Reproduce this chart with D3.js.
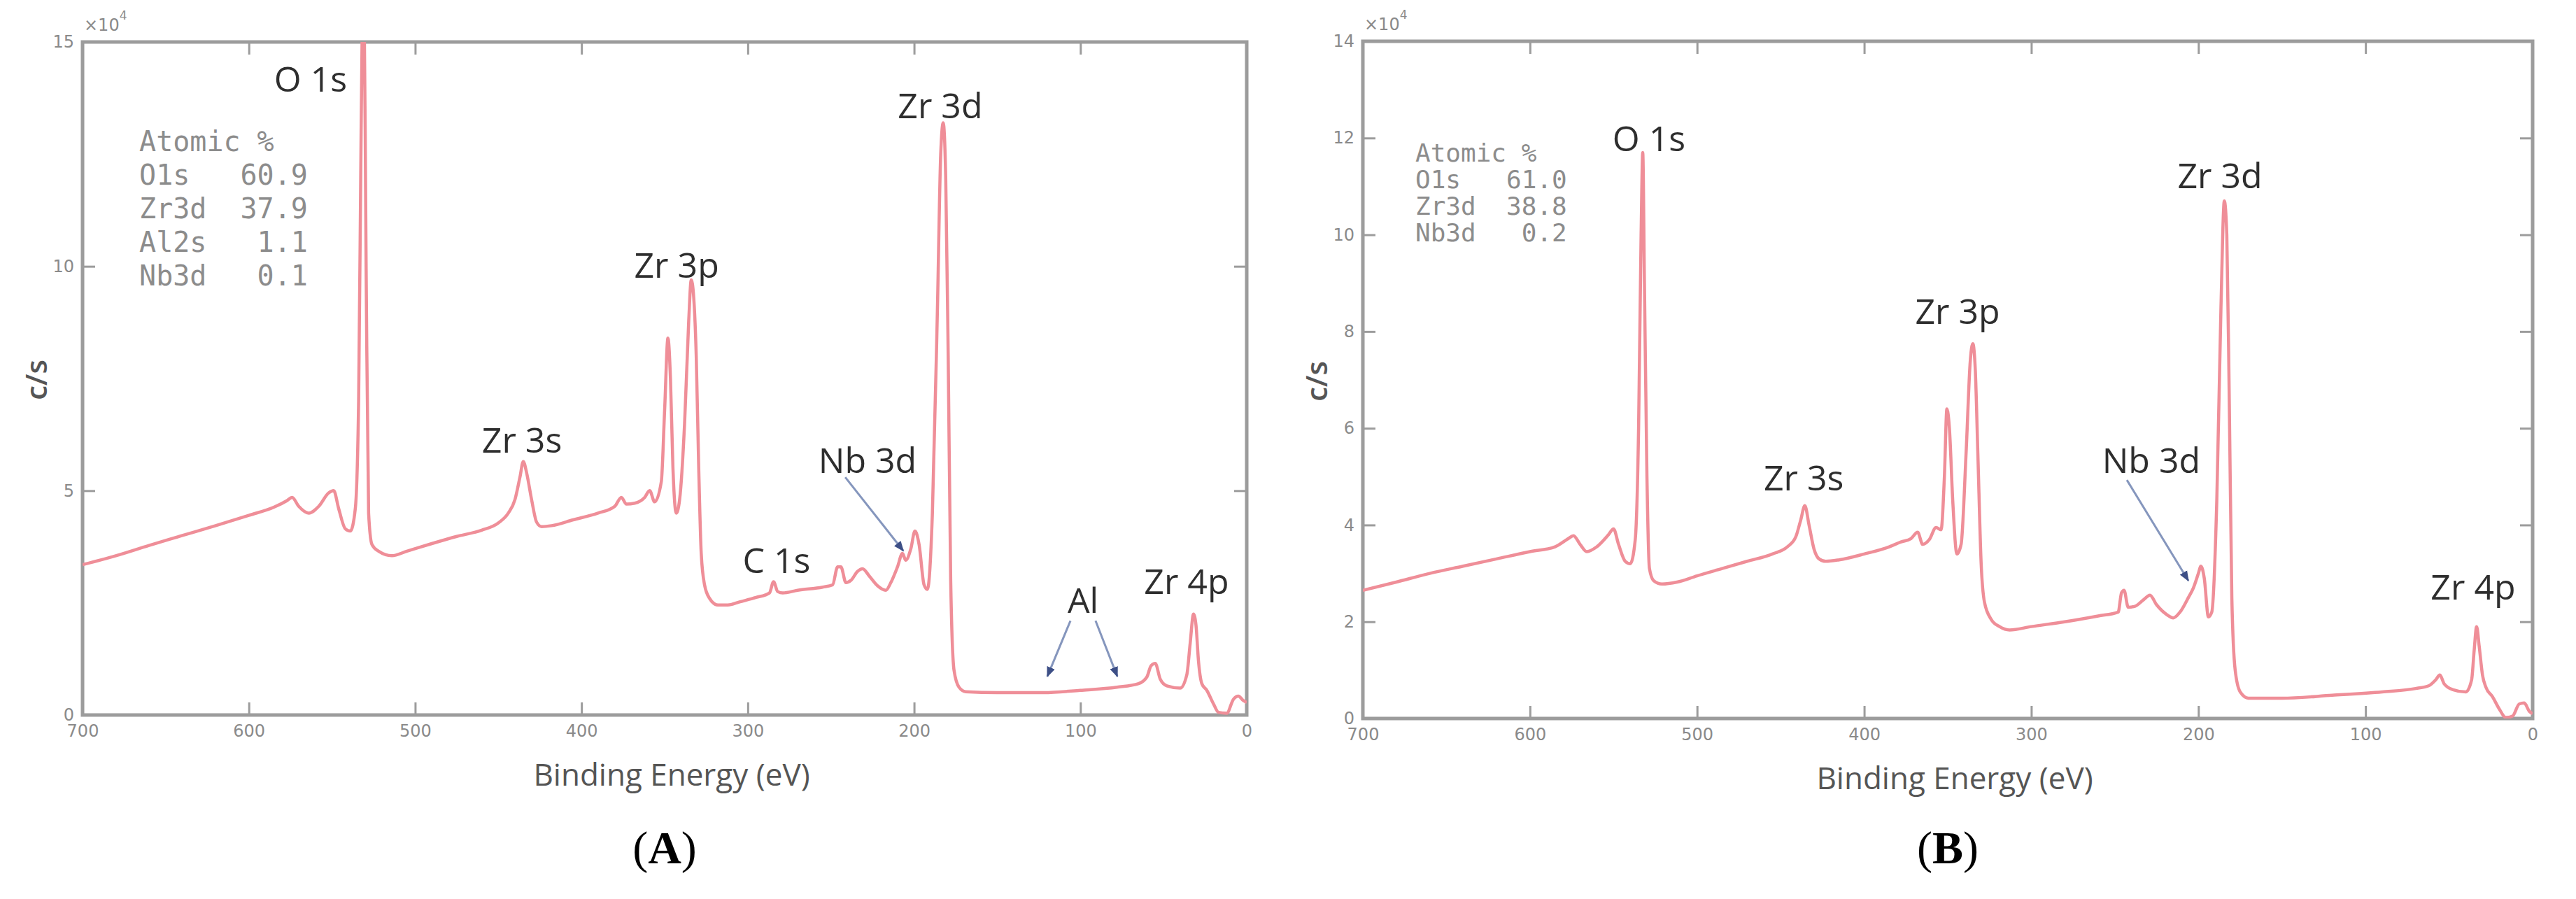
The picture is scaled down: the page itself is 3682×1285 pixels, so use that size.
<!DOCTYPE html>
<html><head><meta charset="utf-8">
<script src="https://cdn.jsdelivr.net/npm/d3@7"></script>
<style>body{margin:0;background:#fff;} svg{display:block}</style>
</head><body>
<svg id="chart" width="3682" height="1285"></svg>
<script>
// ---------- data ----------
const xTickValues = [700, 600, 500, 400, 300, 200, 100, 0];
const yTicksA = [0, 5, 10, 15];
const yTicksB = [0, 2, 4, 6, 8, 10, 12, 14];

// [binding energy (eV), counts (x10^4 c/s)]
const spectrumA = [
  [700,3.35],[680,3.55],[660,3.78],[640,4.0],[620,4.22],[600,4.45],[585,4.63],[577,4.78],[574,4.85],
  [570,4.65],[564,4.5],[558,4.65],[552,4.95],[549,5.0],[546,4.6],[542,4.15],[539,4.1],[536,4.6],
  [534,7],[532.5,13],[531,17],[529.5,10],[528,4.5],[526,3.8],[522,3.65],[514,3.55],[505,3.65],
  [490,3.82],[475,3.98],[460,4.12],[450,4.28],[444,4.5],[440,4.8],[437,5.3],[435,5.65],[433,5.4],
  [430,4.8],[427,4.3],[424,4.2],[418,4.22],[405,4.35],[390,4.5],[380,4.65],[376,4.85],[373,4.7],
  [368,4.72],[362,4.85],[359,5.0],[356,4.75],[352,5.2],[350,6.8],[348,8.4],[346.5,7.5],[345,5.5],
  [343,4.5],[341,4.8],[338,6.5],[335.5,8.8],[334,9.7],[332.5,9.3],[331,8.0],[329.5,5.5],[328,3.6],
  [326,2.9],[323,2.6],[318,2.45],[312,2.45],[305,2.52],[295,2.62],[287,2.72],[284.5,2.97],[282,2.75],
  [279,2.72],[270,2.78],[255,2.85],[249,2.9],[246,3.3],[244,3.3],[241,2.95],[238,3.0],[234,3.2],
  [231,3.26],[227,3.1],[222,2.88],[217,2.78],[214,2.95],[210,3.3],[207,3.6],[205,3.45],[202,3.7],
  [199.5,4.1],[197,3.8],[194,2.9],[192,2.8],[189,4.5],[186,9],[184,12.5],[182.5,13.2],[181,12],
  [179.5,8],[178,3],[176,1.0],[173,0.62],[169,0.52],[150,0.5],[122,0.5],[100,0.55],[78,0.62],
  [65,0.7],[60,0.85],[57.5,1.1],[55,1.15],[52,0.8],[48,0.65],[40,0.6],[36,0.9],[34,1.6],[32,2.25],
  [30.5,2.0],[29,1.2],[27,0.7],[24,0.55],[20,0.25],[17,0.06],[12,0.04],[8,0.35],[5,0.42],[2,0.32],[0,0.28]
];
const spectrumB = [
  [700,2.65],[680,2.82],[660,3.0],[640,3.15],[620,3.3],[600,3.45],[585,3.55],[577,3.72],[574,3.78],
  [570,3.6],[566,3.45],[560,3.55],[553,3.8],[550,3.92],[547,3.6],[543,3.25],[540,3.2],[537,3.7],
  [535,6],[533.5,10],[532.5,11.7],[531.5,9],[530,5],[528.5,3.1],[526,2.85],[521,2.78],[512,2.82],
  [500,2.95],[485,3.1],[470,3.25],[455,3.4],[446,3.55],[441,3.75],[438,4.1],[435.5,4.4],[433,4.0],
  [430,3.5],[427,3.3],[423,3.25],[415,3.28],[400,3.4],[385,3.55],[378,3.65],[372,3.72],[368,3.85],
  [365,3.6],[361,3.7],[357,3.95],[354,3.9],[352,5.0],[350.5,6.4],[349,6.0],[347,4.5],[344.5,3.4],
  [342,3.6],[339,5.5],[336.5,7.4],[335,7.75],[333.5,7.2],[332,5.5],[330,3.2],[328,2.4],[324,2.05],
  [319,1.9],[313,1.83],[300,1.9],[280,2.0],[260,2.12],[248,2.2],[246,2.6],[244.5,2.65],[242,2.3],
  [238,2.32],[233,2.45],[229,2.55],[225,2.35],[219,2.15],[215,2.08],[211,2.2],[206,2.5],[203,2.7],
  [200,3.0],[198.5,3.15],[196.5,2.9],[194,2.1],[192,2.2],[189,4.5],[186.5,8.5],[184.5,10.7],[183,10],
  [181.5,6.5],[180,2.5],[178,1.0],[175,0.55],[170,0.42],[150,0.42],[120,0.48],[90,0.55],[70,0.62],
  [62,0.68],[58,0.8],[55.5,0.9],[53,0.72],[48,0.6],[40,0.55],[36.5,0.8],[35,1.4],[33.5,1.9],[32,1.5],
  [30,0.9],[28,0.65],[24,0.45],[20,0.2],[16,0.02],[12,0.05],[8,0.3],[5,0.32],[2,0.15],[0,0.1]
];

const peakLabelsA = [
  {t:"O 1s", e:562.9, i:14.19}, {t:"Zr 3d", e:184.3, i:13.6}, {t:"Zr 3p", e:342.8, i:10.04},
  {t:"Zr 3s", e:435.8, i:6.14}, {t:"Nb 3d", e:228, i:5.69}, {t:"C 1s", e:282.7, i:3.46},
  {t:"Al", e:98.4, i:2.57}, {t:"Zr 4p", e:36.2, i:2.99}
];
const peakLabelsB = [
  {t:"O 1s", e:528.8, i:12.0}, {t:"Zr 3d", e:187.1, i:11.24}, {t:"Zr 3p", e:344.1, i:8.43},
  {t:"Zr 3s", e:436.2, i:4.99}, {t:"Nb 3d", e:228.2, i:5.35}, {t:"Zr 4p", e:35.6, i:2.73}
];
const arrowsA = [
  {from:[241.4,5.30], to:[206.5,3.66]},
  {from:[106,2.1], to:[119.9,0.86]},
  {from:[90.9,2.1], to:[77.8,0.86]}
];
const arrowsB = [
  {from:[242.8,4.93], to:[206,2.85]}
];
const atomicA = ["Atomic %", "O1s   60.9", "Zr3d  37.9", "Al2s   1.1", "Nb3d   0.1"];
const atomicB = ["Atomic %", "O1s   61.0", "Zr3d  38.8", "Nb3d   0.2"];
const captions = ["A", "B"];

// ---------- drawing ----------
const svg = d3.select("#chart");
svg.append("rect").attr("width",3682).attr("height",1285).attr("fill","#fff");

const defs = svg.append("defs");
defs.append("marker").attr("id","arrowhead").attr("viewBox","0 0 10 10")
  .attr("refX",9).attr("refY",5).attr("markerWidth",5).attr("markerHeight",5)
  .attr("orient","auto-start-reverse").attr("markerUnits","strokeWidth")
  .append("path").attr("d","M0,1 L10,5 L0,9 z").attr("fill","#3d4f86");

const panels = [
  {left:118, right:1782, top:60, bottom:1022, yMax:15, yTicks:yTicksA, data:spectrumA,
   labels:peakLabelsA, arrows:arrowsA, atomic:atomicA, atomE:665.9, atomI:12.79, atomStep:48, atomSize:40,
   capX:950, caption:captions[0]},
  {left:1948, right:3620, top:59, bottom:1027, yMax:14, yTicks:yTicksB, data:spectrumB,
   labels:peakLabelsB, arrows:arrowsB, atomic:atomicB, atomE:668.6, atomI:11.7, atomStep:38, atomSize:36,
   capX:2784, caption:captions[1]}
];

const frameColor = "#9c9c9c";

panels.forEach((p, idx) => {
  const x = d3.scaleLinear().domain([700, 0]).range([p.left, p.right]);
  const y = d3.scaleLinear().domain([0, p.yMax]).range([p.bottom, p.top]);
  const g = svg.append("g");

  const clipId = "clip" + idx;
  defs.append("clipPath").attr("id", clipId).append("rect")
    .attr("x", p.left).attr("y", p.top).attr("width", p.right - p.left).attr("height", p.bottom - p.top);

  const styleAxis = sel => {
    sel.select(".domain").remove();
    sel.selectAll(".tick line").attr("stroke", frameColor).attr("stroke-width", 3);
    sel.selectAll(".tick text").attr("fill", "#8a8a8a").attr("font-size", 24)
      .attr("font-family", "'DejaVu Sans', sans-serif");
  };
  g.append("g").attr("transform", `translate(0,${p.bottom})`)
    .call(d3.axisBottom(x).tickValues(xTickValues).tickSize(-18).tickPadding(14).tickFormat(d3.format("d")))
    .call(styleAxis);
  g.append("g").attr("transform", `translate(0,${p.top})`)
    .call(d3.axisTop(x).tickValues(xTickValues).tickSize(-18).tickFormat(""))
    .call(styleAxis);
  g.append("g").attr("transform", `translate(${p.left},0)`)
    .call(d3.axisLeft(y).tickValues(p.yTicks).tickSize(-18).tickPadding(12).tickFormat(d3.format("d")))
    .call(styleAxis);
  g.append("g").attr("transform", `translate(${p.right},0)`)
    .call(d3.axisRight(y).tickValues(p.yTicks).tickSize(-18).tickFormat(""))
    .call(styleAxis);

  g.append("rect").attr("x", p.left).attr("y", p.top)
    .attr("width", p.right - p.left).attr("height", p.bottom - p.top)
    .attr("fill", "none").attr("stroke", frameColor).attr("stroke-width", 5);

  const ex = g.append("text").attr("x", p.left + 2).attr("y", p.top - 16)
    .attr("font-family", "'DejaVu Sans', sans-serif").attr("font-size", 24).attr("fill", "#8a8a8a");
  ex.append("tspan").text("\u00d710");
  ex.append("tspan").attr("dy", -16).attr("font-size", 17).text("4");

  const line = d3.line().x(d => x(d[0])).y(d => y(d[1])).curve(d3.curveMonotoneX);
  g.append("path").datum(p.data).attr("clip-path", `url(#${clipId})`)
    .attr("d", line).attr("fill", "none").attr("stroke", "#ef8e98")
    .attr("stroke-width", 4.5).attr("stroke-linejoin", "round");

  g.append("g").selectAll("text").data(p.atomic).join("text")
    .attr("x", x(p.atomE)).attr("y", (d, k) => y(p.atomI) + k * p.atomStep)
    .attr("dominant-baseline", "central")
    .style("white-space", "pre")
    .attr("font-family", "'DejaVu Sans Mono', 'Liberation Mono', monospace")
    .attr("font-size", p.atomSize).attr("fill", "#8c8c8c").text(d => d);

  g.append("g").selectAll("line").data(p.arrows).join("line")
    .attr("x1", d => x(d.from[0])).attr("y1", d => y(d.from[1]))
    .attr("x2", d => x(d.to[0])).attr("y2", d => y(d.to[1]))
    .attr("stroke", "#8596bd").attr("stroke-width", 3).attr("marker-end", "url(#arrowhead)");

  g.append("g").selectAll("text").data(p.labels).join("text")
    .attr("x", d => x(d.e)).attr("y", d => y(d.i))
    .attr("text-anchor", "middle").attr("dominant-baseline", "central")
    .attr("font-family", "'Open Sans', 'Noto Sans', sans-serif")
    .attr("font-size", 50).attr("fill", "#2e2e2e").text(d => d.t);

  g.append("text").attr("x", (p.left + p.right) / 2 + 10).attr("y", p.bottom + 84)
    .attr("text-anchor", "middle").attr("dominant-baseline", "central")
    .attr("font-family", "'Open Sans', 'Noto Sans', sans-serif").attr("font-size", 44)
    .attr("fill", "#555").text("Binding Energy (eV)");
  g.append("text")
    .attr("transform", `translate(${p.left - 68},${(p.top + p.bottom) / 2 + 2}) rotate(-90)`)
    .attr("text-anchor", "middle").attr("dominant-baseline", "central")
    .attr("font-family", "'Open Sans', 'Noto Sans', sans-serif").attr("font-size", 42)
    .attr("font-weight", 600).attr("fill", "#555").text("c/s");

  const cap = g.append("text").attr("x", p.capX).attr("y", 1234).attr("text-anchor", "middle")
    .attr("font-family", "'Liberation Serif', 'Times New Roman', serif").attr("font-size", 66).attr("fill", "#000");
  cap.append("tspan").text("(");
  cap.append("tspan").attr("font-weight", "bold").text(p.caption);
  cap.append("tspan").text(")");
});
</script>
</body></html>
